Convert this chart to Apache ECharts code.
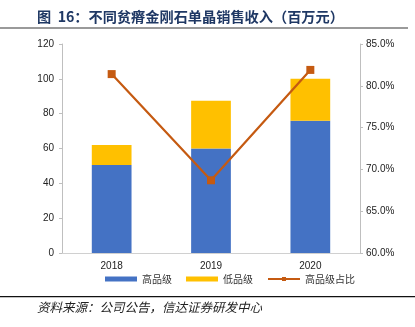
<!DOCTYPE html>
<html><head><meta charset="utf-8">
<script src="https://cdn.jsdelivr.net/npm/echarts@6/dist/echarts.min.js"></script>
<style>html,body{margin:0;padding:0;background:#fff}#c{width:415px;height:327px}</style>
</head><body><div id="c"></div>
<script>
var categories = ['2018', '2019', '2020'];
var highGrade = [50.5, 60.0, 76.0];
var lowGrade = [11.5, 27.4, 24.0];
var highRatio = [81.4, 68.7, 81.9];
var leftTicks = [0, 20, 40, 60, 80, 100, 120];
var rightTicks = [60, 65, 70, 75, 80, 85];

var chart = echarts.init(document.getElementById('c'));
var cjk = '"Noto Sans CJK SC", sans-serif';
chart.setOption({
  animation: false,
  grid: {left: 62, right: 55, top: 44, bottom: 74},
  graphic: [
    {type: 'text', left: 37, top: 10, style: {text: '图  16：不同贫瘠金刚石单晶销售收入（百万元）', font: 'bold 14.2px ' + cjk, fill: '#1f3864'}},
    {type: 'rect', shape: {x: 0, y: 27, width: 408, height: 2}, style: {fill: '#9a9a9a'}},
    {type: 'rect', shape: {x: 0, y: 296, width: 415, height: 1.2}, style: {fill: '#111'}},
    {type: 'text', left: 37, top: 301, style: {text: '资料来源：公司公告，信达证券研发中心', font: 'italic 12.5px ' + cjk, fill: '#222'}}
  ],
  legend: {
    bottom: 38, left: 100, itemGap: 14, itemWidth: 32, itemHeight: 5,
    textStyle: {fontSize: 10, color: '#333', fontFamily: cjk},
    data: [
      {name: '高品级', icon: 'rect'},
      {name: '低品级', icon: 'rect'},
      {name: '高品级占比'}
    ]
  },
  xAxis: {
    type: 'category', data: categories,
    axisLine: {lineStyle: {color: '#d0d0d0'}},
    axisTick: {show: false},
    axisLabel: {color: '#222', fontSize: 10, margin: 8, fontFamily: 'Liberation Sans'}
  },
  yAxis: [
    {type: 'value', min: 0, max: 120, interval: 20,
     axisLine: {show: true, lineStyle: {color: '#bfbfbf'}},
     axisTick: {show: true, length: 3, lineStyle: {color: '#bfbfbf'}},
     splitLine: {show: false},
     axisLabel: {color: '#222', fontSize: 10, margin: 8, fontFamily: 'Liberation Sans',
       formatter: function (v) { return leftTicks.indexOf(v) >= 0 ? String(v) : ''; }}},
    {type: 'value', min: 60, max: 85, interval: 5, position: 'right',
     axisLine: {show: true, lineStyle: {color: '#bfbfbf'}},
     axisTick: {show: true, length: 3, lineStyle: {color: '#bfbfbf'}},
     splitLine: {show: false},
     axisLabel: {color: '#222', fontSize: 10, margin: 6, fontFamily: 'Liberation Sans',
       formatter: function (v) { return rightTicks.indexOf(v) >= 0 ? v.toFixed(1) + '%' : ''; }}}
  ],
  series: [
    {name: '高品级', type: 'bar', stack: 'total', barWidth: '40%', data: highGrade,
     itemStyle: {color: '#4472C4'}},
    {name: '低品级', type: 'bar', stack: 'total', barWidth: '40%', data: lowGrade,
     itemStyle: {color: '#FFC000'}},
    {name: '高品级占比', type: 'line', yAxisIndex: 1, data: highRatio,
     symbol: 'rect', symbolSize: 8,
     lineStyle: {color: '#C55A11', width: 2.2},
     itemStyle: {color: '#C55A11'}}
  ]
});
</script></body></html>
